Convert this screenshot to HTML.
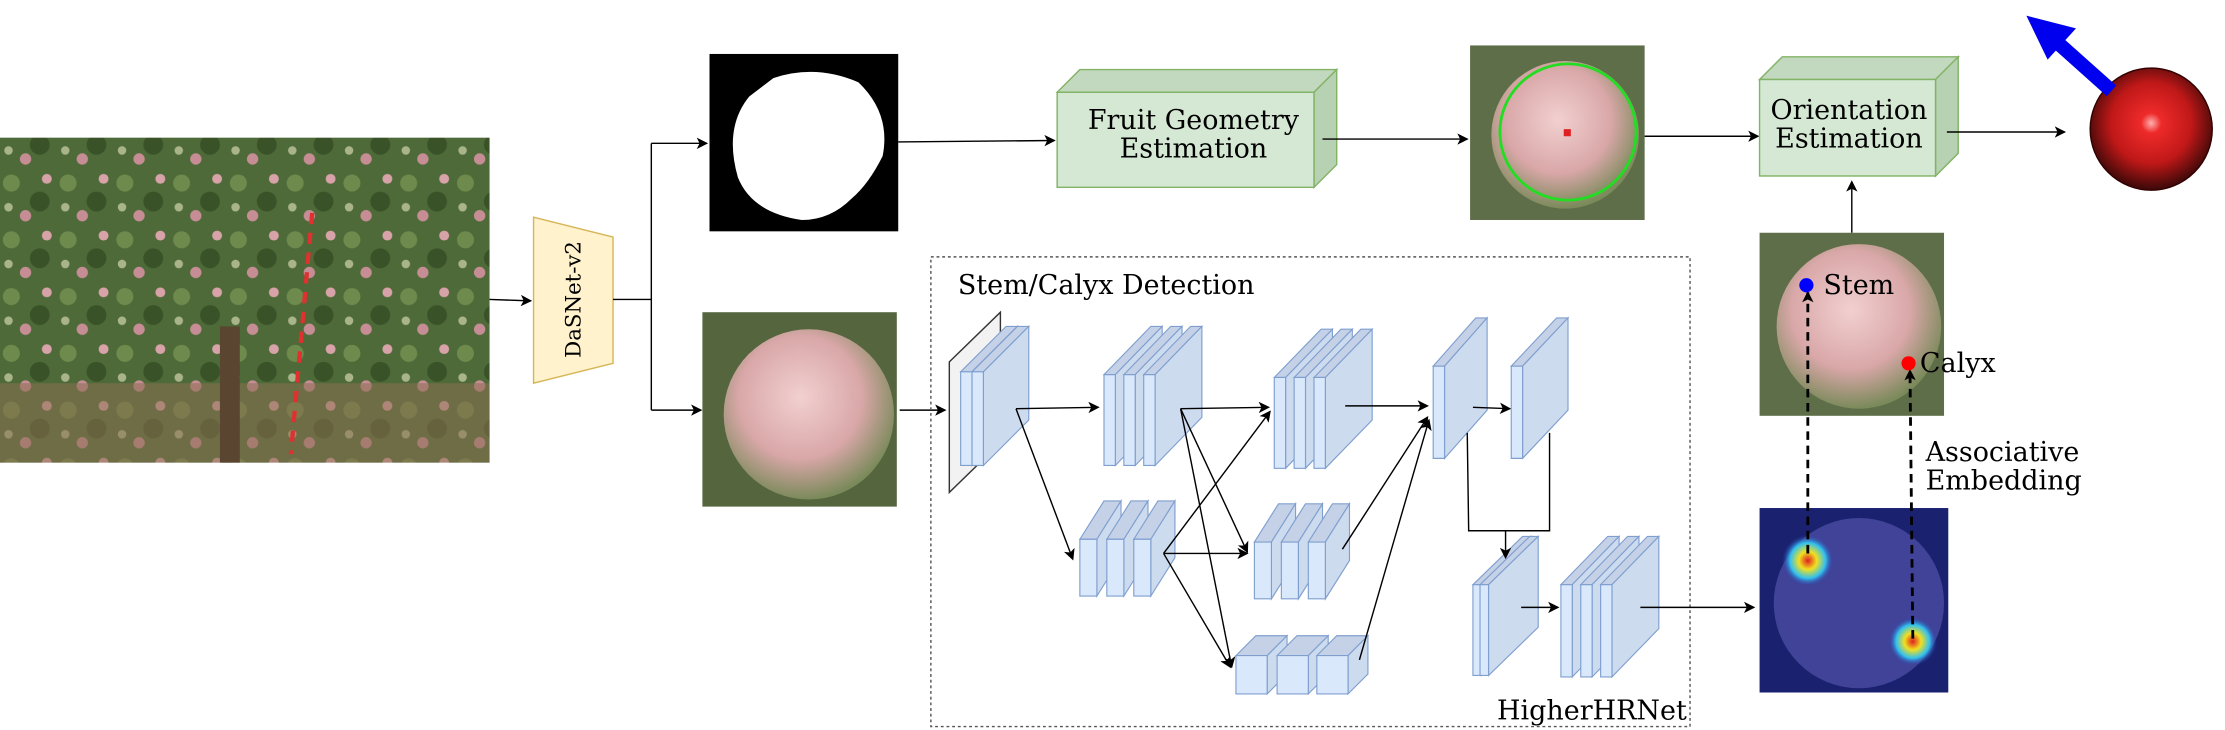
<!DOCTYPE html>
<html><head><meta charset="utf-8"><style>
html,body{margin:0;padding:0;background:#fff;width:2225px;height:730px;overflow:hidden}
svg{display:block}
text{font-family:"DejaVu Serif","Liberation Serif",serif;fill:#000}
</style></head><body>
<svg id="s" width="2225" height="730" viewBox="0 0 1568 514.4" xmlns="http://www.w3.org/2000/svg">
<defs>
<marker id="a" markerWidth="8" markerHeight="8" refX="7" refY="4" orient="auto" markerUnits="userSpaceOnUse"><path d="M0,0L8,4L0,8L2,4Z" fill="#000"/></marker>
<radialGradient id="ap" cx="45%" cy="40%" r="60%"><stop offset="0" stop-color="#f2d0d0"/><stop offset="0.6" stop-color="#d9a7a8"/><stop offset="1" stop-color="#7a8a5a"/></radialGradient>
<radialGradient id="sp" cx="50%" cy="45%" r="55%"><stop offset="0" stop-color="#ffb0b0"/><stop offset="0.15" stop-color="#ee2a2a"/><stop offset="0.6" stop-color="#c01818"/><stop offset="1" stop-color="#3a0808"/></radialGradient>
<radialGradient id="h1"><stop offset="0" stop-color="#e02020"/><stop offset="0.35" stop-color="#f0e020"/><stop offset="0.7" stop-color="#30c0f0"/><stop offset="1" stop-color="#3040b0" stop-opacity="0"/></radialGradient>
<pattern id="tr" width="40" height="40" patternUnits="userSpaceOnUse">
<rect width="40" height="40" fill="#4d6a38"/>
<circle cx="8" cy="9" r="6" fill="#6e8a4c"/><circle cx="28" cy="22" r="7" fill="#3a5228"/>
<circle cx="18" cy="32" r="4" fill="#c68d95"/><circle cx="33" cy="6" r="3.5" fill="#d7a2a8"/>
<circle cx="6" cy="26" r="3" fill="#a9b48a"/></pattern>
</defs>
<rect x="0" y="97" width="345" height="229" fill="url(#tr)"/>
<rect x="0" y="270" width="345" height="56" fill="#8a7050" opacity="0.55"/>
<rect x="155" y="230" width="14" height="96" fill="#5a4630"/>
<line x1="220" y1="150" x2="205" y2="320" stroke="#e03030" stroke-width="3" stroke-dasharray="8 6"/>
<line x1="345" y1="211" x2="374" y2="212" stroke="#000" marker-end="url(#a)"/>
<polygon points="376,153 432,167 432,256 376,270" fill="#fff2cc" stroke="#d6b656"/>
<text transform="translate(409,211) rotate(-90)" text-anchor="middle" font-size="15">DaSNet-v2</text>
<polyline points="432,211 459,211" fill="none" stroke="#000"/>
<line x1="459" y1="101" x2="459" y2="289" stroke="#000"/>
<line x1="459" y1="101" x2="498" y2="101" stroke="#000" marker-end="url(#a)"/>
<line x1="459" y1="289" x2="494" y2="289" stroke="#000" marker-end="url(#a)"/>
<rect x="500" y="38" width="133" height="125" fill="#000"/>
<path d="M545,55 Q575,45 605,58 Q628,80 622,110 Q612,130 600,140 Q585,155 565,155 Q530,150 520,125 Q510,90 528,68 Z" fill="#fff"/>
<line x1="633" y1="100" x2="743" y2="99" stroke="#000" marker-end="url(#a)"/>
<polygon points="745,65 761,49 942,49 926,65" fill="#c3d9bf" stroke="#82b366"/>
<polygon points="926,65 942,49 942,116 926,132" fill="#b7d1b3" stroke="#82b366"/>
<rect x="745" y="65" width="181" height="67" fill="#d5e8d4" stroke="#82b366"/>
<text x="841" y="91" text-anchor="middle" font-size="19">Fruit Geometry</text>
<text x="841" y="111" text-anchor="middle" font-size="19">Estimation</text>
<line x1="932" y1="98" x2="1034" y2="98" stroke="#000" marker-end="url(#a)"/>
<rect x="1036" y="32" width="123" height="123" fill="#5e6e48"/>
<circle cx="1103" cy="95" r="52" fill="url(#ap)"/>
<circle cx="1105" cy="93" r="48" fill="none" stroke="#22dd22" stroke-width="2"/>
<rect x="1102" y="91" width="5" height="5" fill="#e02020"/>
<line x1="1159" y1="96" x2="1239" y2="96" stroke="#000" marker-end="url(#a)"/>
<polygon points="1240,56 1256,40 1380,40 1364,56" fill="#c3d9bf" stroke="#82b366"/>
<polygon points="1364,56 1380,40 1380,108 1364,124" fill="#b7d1b3" stroke="#82b366"/>
<rect x="1240" y="56" width="124" height="68" fill="#d5e8d4" stroke="#82b366"/>
<text x="1303" y="84" text-anchor="middle" font-size="19">Orientation</text>
<text x="1303" y="104" text-anchor="middle" font-size="19">Estimation</text>
<line x1="1372" y1="93" x2="1455" y2="93" stroke="#000" marker-end="url(#a)"/>
<circle cx="1516" cy="91" r="43" fill="url(#sp)" stroke="#300" stroke-width="1"/>
<line x1="1488" y1="64" x2="1450" y2="30" stroke="#0000ee" stroke-width="10"/>
<polygon points="1428,11 1463,20 1443,42" fill="#0000ee"/>
<rect x="495" y="220" width="137" height="137" fill="#55663f"/>
<circle cx="570" cy="292" r="60" fill="url(#ap)"/>
<line x1="634" y1="289" x2="666" y2="289" stroke="#000" marker-end="url(#a)"/>
<rect x="656" y="181" width="535" height="331" fill="none" stroke="#555" stroke-dasharray="2 2"/>
<text x="675" y="207" font-size="19">Stem/Calyx Detection</text>
<text x="1055" y="507" font-size="19">HigherHRNet</text>
<polygon points="669,255 705,220 705,312 669,347" fill="#f2f2f2" stroke="#333"/>
<g id="blocks"></g>
<g stroke="#000" fill="none" marker-end="url(#a)">
<line x1="716" y1="288" x2="774" y2="287"/>
<line x1="716" y1="288" x2="756" y2="394"/>
<line x1="832" y1="288" x2="894" y2="287"/>
<line x1="832" y1="288" x2="879" y2="389"/>
<line x1="832" y1="288" x2="868" y2="470"/>
<line x1="820" y1="390" x2="895" y2="290"/>
<line x1="820" y1="390" x2="879" y2="390"/>
<line x1="820" y1="390" x2="867" y2="470"/>
<line x1="948" y1="286" x2="1006" y2="286"/>
<line x1="946" y1="387" x2="1006" y2="294"/>
<line x1="958" y1="465" x2="1007" y2="296"/>
<line x1="1038" y1="287" x2="1064" y2="288"/>
<line x1="1061" y1="374" x2="1061" y2="393"/>
<line x1="1072" y1="428" x2="1098" y2="428"/>
<line x1="1156" y1="428" x2="1236" y2="428"/>
<line x1="1305" y1="164" x2="1305" y2="128"/>
</g>
<polyline points="1034,305 1035,374 1092,374 1092,305" fill="none" stroke="#000"/>
<rect x="1240" y="164" width="130" height="129" fill="#5e6e48"/>
<circle cx="1310" cy="230" r="58" fill="url(#ap)"/>
<rect x="1240" y="358" width="133" height="130" fill="#1a2270"/>
<circle cx="1310" cy="425" r="60" fill="#5a5ab0" opacity="0.6"/>
<circle cx="1274" cy="395" r="18" fill="url(#h1)"/>
<circle cx="1348" cy="452" r="17" fill="url(#h1)"/>
<line x1="1274" y1="390" x2="1274" y2="206" stroke="#000" stroke-width="2" stroke-dasharray="6 4" marker-end="url(#a)"/>
<line x1="1348" y1="450" x2="1346" y2="261" stroke="#000" stroke-width="2" stroke-dasharray="6 4" marker-end="url(#a)"/>
<circle cx="1273" cy="201" r="5" fill="#0000ff"/>
<text x="1285" y="207" font-size="19">Stem</text>
<circle cx="1345" cy="256" r="5" fill="#ff0000"/>
<text x="1353" y="262" font-size="19">Calyx</text>
<text x="1357" y="325" font-size="19">Associative</text>
<text x="1357" y="345" font-size="19">Embedding</text>
</svg>
<script>
var g=document.getElementById('blocks'),NS='http://www.w3.org/2000/svg';
function P(pts,f){var p=document.createElementNS(NS,'polygon');p.setAttribute('points',pts);p.setAttribute('fill',f);p.setAttribute('stroke','#7f9fcf');p.setAttribute('stroke-width','0.8');g.appendChild(p);}
function B(x,y,w,h,dx,dy){
P([x,y,x+dx,y-dy,x+w+dx,y-dy,x+w,y].join(','),'#c4d1e6');
P([x+w,y,x+w+dx,y-dy,x+w+dx,y+h-dy,x+w,y+h].join(','),'#cddbef');
P([x,y,x+w,y,x+w,y+h,x,y+h].join(','),'#dae8fc');}
var L=[[[677,685],262,8,66,32,32],[[778,792,806],264,8,64,33,34],[[898,912,926],266,8,64,33,34],
[[1010],258,8,65,30,34],[[1065],258,8,65,32,34],[[761,780,799],380,12,40,17,27],
[[884,903,922],382,12,40,17,27],[[871,900,928],462,22,27,14,14],[[1038,1043],412,6,64,35,34],[[1100,1114,1128],412,8,65,33,34]];
L.forEach(function(l){l[0].forEach(function(x){B(x,l[1],l[2],l[3],l[4],l[5]);});});
</script>
</body></html>
